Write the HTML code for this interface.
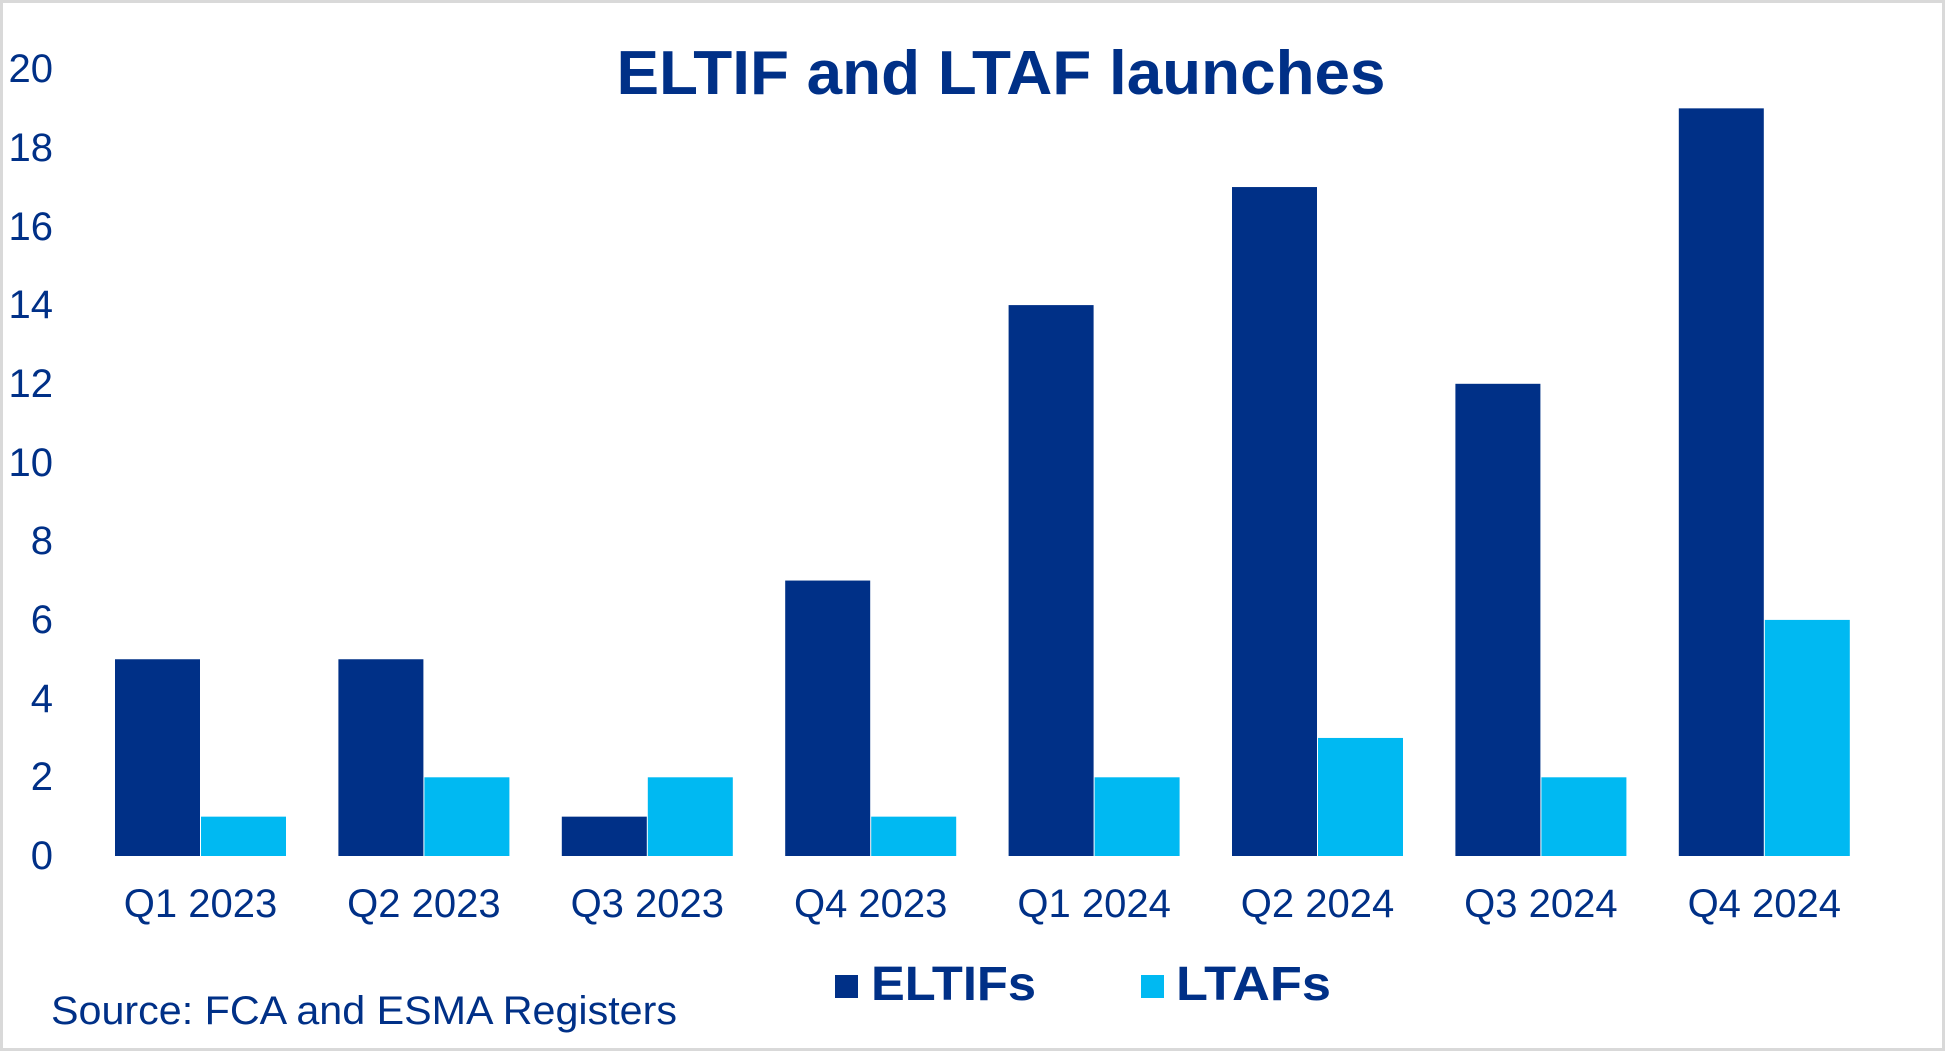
<!DOCTYPE html>
<html><head><meta charset="utf-8"><style>
html,body{margin:0;padding:0;background:#fff;}
svg{display:block;}
text{font-family:"Liberation Sans",Arial,sans-serif;fill:#003087;}
</style></head><body>
<svg width="1945" height="1051" viewBox="0 0 1945 1051" xmlns="http://www.w3.org/2000/svg">
<rect x="1.5" y="1.5" width="1942" height="1048" fill="#fff" stroke="#d9d9d9" stroke-width="3"/>
<text x="1001" y="94" font-size="62" font-weight="bold" text-anchor="middle" textLength="769" lengthAdjust="spacingAndGlyphs">ELTIF and LTAF launches</text>
<g font-size="40" text-anchor="end">
<text x="53" y="82">20</text>
<text x="53" y="161">18</text>
<text x="53" y="240">16</text>
<text x="53" y="318">14</text>
<text x="53" y="397">12</text>
<text x="53" y="476">10</text>
<text x="53" y="554">8</text>
<text x="53" y="633">6</text>
<text x="53" y="712">4</text>
<text x="53" y="790">2</text>
<text x="53" y="869">0</text>
</g>
<g fill="#003087">
<rect x="115" y="659.25" width="85" height="196.75"/>
<rect x="338.4" y="659.25" width="85" height="196.75"/>
<rect x="561.8" y="816.65" width="85" height="39.35"/>
<rect x="785.2" y="580.55" width="85" height="275.45"/>
<rect x="1008.6" y="305.1" width="85" height="550.9"/>
<rect x="1232" y="187.05" width="85" height="668.95"/>
<rect x="1455.4" y="383.8" width="85" height="472.2"/>
<rect x="1678.8" y="108.35" width="85" height="747.65"/>
</g>
<g fill="#00B9F2">
<rect x="201" y="816.65" width="85" height="39.35"/>
<rect x="424.4" y="777.3" width="85" height="78.7"/>
<rect x="647.8" y="777.3" width="85" height="78.7"/>
<rect x="871.2" y="816.65" width="85" height="39.35"/>
<rect x="1094.6" y="777.3" width="85" height="78.7"/>
<rect x="1318" y="737.95" width="85" height="118.05"/>
<rect x="1541.4" y="777.3" width="85" height="78.7"/>
<rect x="1764.8" y="619.9" width="85" height="236.1"/>
</g>
<g font-size="40" text-anchor="middle">
<text x="200.5" y="917">Q1 2023</text>
<text x="423.9" y="917">Q2 2023</text>
<text x="647.3" y="917">Q3 2023</text>
<text x="870.7" y="917">Q4 2023</text>
<text x="1094.1" y="917">Q1 2024</text>
<text x="1317.5" y="917">Q2 2024</text>
<text x="1540.9" y="917">Q3 2024</text>
<text x="1764.3" y="917">Q4 2024</text>
</g>
<rect x="835" y="975" width="23" height="23" fill="#003087"/>
<text x="871" y="1000" font-size="48" font-weight="bold" textLength="165" lengthAdjust="spacingAndGlyphs">ELTIFs</text>
<rect x="1141" y="975" width="23" height="23" fill="#00B9F2"/>
<text x="1176" y="1000" font-size="48" font-weight="bold" textLength="155" lengthAdjust="spacingAndGlyphs">LTAFs</text>
<text x="51" y="1024" font-size="40" textLength="626" lengthAdjust="spacingAndGlyphs">Source: FCA and ESMA Registers</text>
</svg>
</body></html>
